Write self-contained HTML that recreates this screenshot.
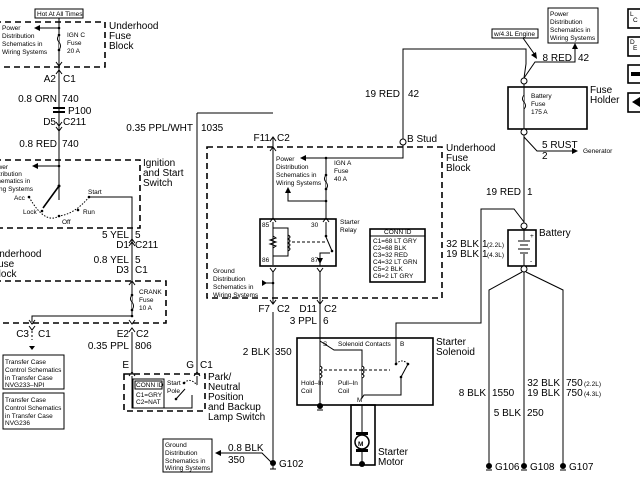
<!DOCTYPE html>
<html><head><meta charset="utf-8"><style>
html,body{margin:0;padding:0;background:#fff;}
svg{display:block;font-family:"Liberation Sans",sans-serif;}
.l{font-size:10px;}
.s{font-size:6.5px;}
.e{text-anchor:end;}
.d{fill:none;stroke:#000;stroke-width:1.6;stroke-dasharray:6,4;}
.w{fill:none;stroke:#000;stroke-width:1;}
.w2{fill:none;stroke:#000;stroke-width:1.6;}
</style></head><body>
<svg width="640" height="480" viewBox="0 0 640 480" xmlns="http://www.w3.org/2000/svg">
<rect width="640" height="480" fill="#fff"/>
<!-- LEFT: top fuse block -->
<rect x="35" y="9" width="48" height="9" class="w"/>
<text x="37" y="16" class="s">Hot At All Times</text>
<path d="M-5 22 H105 V67 H-5" class="d"/>
<text x="109" y="29" class="l">Underhood</text><text x="109" y="39" class="l">Fuse</text><text x="109" y="49" class="l">Block</text>
<path d="M59 18 V74 M59 28 H38" class="w"/><polygon points="34,28 40,25 40,31"/>
<circle cx="59" cy="28" r="1.3"/><circle cx="59" cy="35" r="1.3"/><circle cx="59" cy="50" r="1.3"/>
<path d="M59 35 q-3 4 0 7 q3 4 0 8" fill="#fff" stroke="#000"/>
<text x="2" y="30" class="s">Power</text><text x="2" y="38" class="s">Distribution</text><text x="2" y="46" class="s">Schematics in</text><text x="2" y="54" class="s">Wiring Systems</text>
<text x="67" y="37" class="s">IGN C</text><text x="67" y="45" class="s">Fuse</text><text x="67" y="53" class="s">20 A</text>
<path d="M56 62 L59 66 L62 62 M56 74 L59 70 L62 74" class="w"/>
<text x="56" y="82" class="l e">A2</text><text x="63" y="82" class="l">C1</text>
<path d="M59 74 V200" class="w"/>
<text x="57" y="102" class="l e">0.8 ORN</text><text x="62" y="102" class="l">740</text>
<rect x="53" y="107" width="12" height="2" /><rect x="53" y="111" width="12" height="2"/>
<text x="68" y="114" class="l">P100</text>
<text x="56" y="125" class="l e">D5</text><text x="63" y="125" class="l">C211</text>
<path d="M56 122 L59 126 L62 122 M56 127 L59 131 L62 127" class="w"/>
<text x="57" y="147" class="l e">0.8 RED</text><text x="62" y="147" class="l">740</text>
<!-- ignition switch -->
<path d="M-5 160 H140 V228 H-5" class="d"/>
<text x="143" y="166" class="l">Ignition</text><text x="143" y="176" class="l">and Start</text><text x="143" y="186" class="l">Switch</text>
<path d="M59 166 H36" class="w"/><polygon points="32,166 38,163 38,169"/><circle cx="59" cy="166" r="1.3"/>
<text x="-6" y="169" class="s">ower</text><text x="-6" y="176" class="s">istribution</text><text x="-6" y="183" class="s">chematics in</text><text x="-6" y="191" class="s">iring Systems</text>
<circle cx="59" cy="186" r="1.5"/><path d="M59 186 L43 208" class="w2"/>
<path d="M29 197 Q45 225 59 216 Q75 214 89 197" fill="none" stroke="#000" stroke-dasharray="1.5,1.5"/>
<circle cx="29" cy="197" r="1.3"/><circle cx="42" cy="211" r="1.3"/><circle cx="59" cy="216" r="1.3"/><circle cx="78" cy="210" r="1.3"/><circle cx="89" cy="197" r="1.3"/>
<text x="14" y="200" class="s">Acc</text><text x="23" y="214" class="s">Lock</text><text x="62" y="224" class="s">Off</text><text x="83" y="214" class="s">Run</text><text x="88" y="194" class="s">Start</text>
<path d="M89 197 H132 V316" class="w"/>
<text x="129" y="238" class="l e">5 YEL</text><text x="135" y="238" class="l">5</text>
<text x="129" y="248" class="l e">D1</text><text x="135" y="248" class="l">C211</text>
<path d="M129 243 L132 239 L135 243 M129 246 L132 242 L135 246" class="w"/>
<text x="129" y="263" class="l e">0.8 YEL</text><text x="135" y="263" class="l">5</text>
<text x="129" y="273" class="l e">D3</text><text x="135" y="273" class="l">C1</text>
<text x="-8" y="257" class="l">Underhood</text><text x="-8" y="267" class="l">Fuse</text><text x="-8" y="277" class="l">Block</text>
<!-- crank fuse -->
<path d="M-5 281 H166 V323 H-5" class="d"/>
<path d="M129 285 L132 281 L135 285" class="w"/>
<path d="M132 295 q-3 4 0 7 q3 4 0 8" fill="#fff" stroke="#000"/>
<circle cx="132" cy="295" r="1.3"/><circle cx="132" cy="310" r="1.3"/>
<text x="139" y="294" class="s">CRANK</text><text x="139" y="302" class="s">Fuse</text><text x="139" y="310" class="s">10 A</text>
<path d="M132 316 H32 V322" class="w"/><circle cx="132" cy="316" r="1.3"/>
<path d="M29 320 L32 324 L35 320 M29 326 L32 330 L35 326 M129 320 L132 324 L135 320 M129 332 L132 328 L135 332" class="w"/>
<text x="29" y="337" class="l e">C3</text><text x="38" y="337" class="l">C1</text>
<text x="129" y="337" class="l e">E2</text><text x="136" y="337" class="l">C2</text>
<path d="M32 331 V340" class="w" stroke-dasharray="2,2"/><polygon points="29,346 35,346 32,350"/>
<text x="129" y="349" class="l e">0.35 PPL</text><text x="135" y="349" class="l">806</text>
<path d="M132 332 V375" class="w"/>
<rect x="3" y="355" width="61" height="34" class="w"/>
<text x="5" y="364" class="s">Transfer Case</text><text x="5" y="372" class="s">Control Schematics</text><text x="5" y="380" class="s">in Transfer Case</text><text x="5" y="387" class="s">NVG233–NPI</text>
<rect x="3" y="393" width="61" height="36" class="w"/>
<text x="5" y="402" class="s">Transfer Case</text><text x="5" y="410" class="s">Control Schematics</text><text x="5" y="418" class="s">in Transfer Case</text><text x="5" y="425" class="s">NVG236</text>
<!-- P/N switch -->
<text x="129" y="368" class="l e">E</text><text x="194" y="368" class="l e">G</text><text x="200" y="368" class="l">C1</text>
<path d="M197 113 V372 M197 113 H273" class="w"/>
<text x="193" y="131" class="l e">0.35 PPL/WHT</text><text x="201" y="131" class="l">1035</text>
<path d="M124 374 H205 V411 H124 Z" class="d"/>
<path d="M129 376 L132 372 L135 376 M194 376 L197 372 L200 376" class="w"/>
<rect x="133" y="379" width="31" height="29" class="w"/><rect x="135" y="381" width="27" height="8" class="w"/>
<text x="136" y="387" class="s">CONN ID</text><text x="136" y="397" class="s">C1=GRY</text><text x="136" y="404" class="s">C2=NAT</text>
<path d="M132 376 V408 H192 V395 M197 376 V385 M176 399 L185 389" class="w"/>
<circle cx="184" cy="383" r="1.3"/><circle cx="176" cy="399" r="1.3"/>
<path d="M184 383 Q190 377 197 385" fill="none" stroke="#000" stroke-dasharray="1.5,1.5"/>
<text x="167" y="385" class="s">Start</text><text x="167" y="393" class="s">Pole</text>
<text x="208" y="380" class="l">Park/</text><text x="208" y="390" class="l">Neutral</text><text x="208" y="400" class="l">Position</text><text x="208" y="410" class="l">and Backup</text><text x="208" y="420" class="l">Lamp Switch</text>
<!-- ground dist box -->
<rect x="163" y="439" width="49" height="33" class="w"/>
<text x="165" y="447" class="s">Ground</text><text x="165" y="455" class="s">Distribution</text><text x="165" y="463" class="s">Schematics in</text><text x="165" y="470" class="s">Wiring Systems</text>
<path d="M219 453 H262 L272 463" class="w"/><polygon points="215,453 221,450 221,456"/>
<text x="228" y="451" class="l">0.8 BLK</text><text x="228" y="463" class="l">350</text>
<path d="M273 312 V463" class="w"/><circle cx="273" cy="463" r="3"/><path d="M273 466 V469 M270 469 H276" class="w"/>
<text x="279" y="467" class="l">G102</text>
<text x="270" y="355" class="l e">2 BLK</text><text x="275" y="355" class="l">350</text>
<!-- MIDDLE fuse block -->
<path d="M207 147 H442 V298 H207 Z" class="d"/>
<text x="446" y="151" class="l">Underhood</text><text x="446" y="161" class="l">Fuse</text><text x="446" y="171" class="l">Block</text>
<text x="270" y="141" class="l e">F11</text><text x="277" y="141" class="l">C2</text>
<path d="M270 141 L273 137 L276 141 M270 151 L273 147 L276 151" class="w"/>
<path d="M273 137 V218" class="w"/>
<circle cx="403" cy="142" r="3" fill="#fff" stroke="#000"/>
<text x="407" y="142" class="l">B Stud</text>
<path d="M403 139 V49 H526 V64 L524 78 M403 145 V158 H304" class="w"/><polygon points="300,158 306,155 306,161"/>
<text x="400" y="97" class="l e">19 RED</text><text x="408" y="97" class="l">42</text>
<text x="276" y="161" class="s">Power</text><text x="276" y="169" class="s">Distribution</text><text x="276" y="177" class="s">Schematics in</text><text x="276" y="185" class="s">Wiring Systems</text>
<path d="M326 158 V218 M326 201 H288 V193" class="w"/><polygon points="285,193 291,193 288,187"/>
<circle cx="326" cy="158" r="1.3"/><circle cx="326" cy="175" r="1.3"/><circle cx="326" cy="189" r="1.3"/><circle cx="326" cy="201" r="1.3"/>
<path d="M326 175 q-3 4 0 7 q3 4 0 7" fill="#fff" stroke="#000"/>
<text x="334" y="165" class="s">IGN A</text><text x="334" y="173" class="s">Fuse</text><text x="334" y="181" class="s">40 A</text>
<!-- relay -->
<rect x="260" y="219" width="76" height="47" class="w2"/>
<path d="M270 222 L273 218 L276 222 M323 222 L326 218 L329 222" class="w"/>
<text x="262" y="227" class="s">85</text><text x="262" y="262" class="s">86</text><text x="311" y="227" class="s">30</text><text x="311" y="262" class="s">87</text>
<text x="340" y="224" class="s">Starter</text><text x="340" y="232" class="s">Relay</text>
<path d="M273 222 V265 M273 228 H288 V256 H273 M273 236 l3 2 -6 2 6 2 -6 2 6 2 -3 2" class="w"/>
<path d="M288 235 q4 2 0 4 q4 2 0 4 q4 2 0 4 q4 2 0 4" fill="none" stroke="#000"/>
<path d="M326 222 V237 L332 251 M320 266 V253 H330" class="w"/><polygon points="317,258 323,258 320,264"/>
<path d="M292 242 H326" class="w" stroke-dasharray="3,2"/>
<circle cx="326" cy="236" r="1.3"/><circle cx="332" cy="251" r="1.3"/>
<path d="M270 268 L273 272 L276 268 M317 268 L320 272 L323 268 M270 300 L273 304 L276 300 M317 300 L320 304 L323 300" class="w"/>
<rect x="370" y="229" width="55" height="53" class="w2"/><path d="M370 236 H425" class="w"/>
<text x="384" y="234" class="s">CONN ID</text>
<text x="373" y="243" class="s">C1=68 LT GRY</text><text x="373" y="250" class="s">C2=68 BLK</text><text x="373" y="257" class="s">C3=32 RED</text><text x="373" y="264" class="s">C4=32 LT GRN</text><text x="373" y="271" class="s">C5=2 BLK</text><text x="373" y="278" class="s">C6=2 LT GRY</text>
<text x="213" y="273" class="s">Ground</text><text x="213" y="281" class="s">Distribution</text><text x="213" y="289" class="s">Schematics in</text><text x="213" y="297" class="s">Wiring Systems</text>
<path d="M273 272 V304 M265 283 H273 M320 272 V338" class="w"/><polygon points="262,280 262,286 267,283"/><circle cx="273" cy="283" r="1.3"/>
<text x="270" y="312" class="l e">F7</text><text x="277" y="312" class="l">C2</text>
<text x="317" y="312" class="l e">D11</text><text x="324" y="312" class="l">C2</text>
<text x="317" y="324" class="l e">3 PPL</text><text x="323" y="324" class="l">6</text>
<!-- solenoid -->
<rect x="297" y="338" width="136" height="67" class="w2"/>
<text x="436" y="345" class="l">Starter</text><text x="436" y="355" class="l">Solenoid</text>
<text x="323" y="346" class="s">S</text><text x="338" y="346" class="s">Solenoid Contacts</text><text x="400" y="346" class="s">B</text>
<text x="301" y="385" class="s">Hold–In</text><text x="301" y="393" class="s">Coil</text>
<text x="338" y="385" class="s">Pull–In</text><text x="338" y="393" class="s">Coil</text><text x="357" y="402" class="s">M</text>
<path d="M320 338 V406 M320 341 L334 350 H362 V398 L364 395 H401 V376 M396 338 V364 M396 338 V323 H481 V209 H514 L524 222" class="w"/>
<path d="M320 366 q4 2 0 4 q4 2 0 4 q4 2 0 4 M362 366 q4 2 0 4 q4 2 0 4 q4 2 0 4" fill="#fff" stroke="#000"/>
<path d="M324 370 H390" class="w" stroke-dasharray="3,2"/>
<path d="M396 364 Q402 358 408 364" fill="none" stroke="#000" stroke-dasharray="1.5,1.5"/>
<path d="M401 377 L408 364" class="w"/>
<circle cx="396" cy="364" r="1.3"/><circle cx="408" cy="364" r="1.3"/><circle cx="401" cy="377" r="1.3"/>
<circle cx="320" cy="406" r="3"/><path d="M317 410 H323" class="w"/>
<rect x="351" y="405" width="24" height="60" class="w2"/>
<path d="M362 405 V432 M362 452 V462" class="w"/>
<rect x="356" y="432" width="12" height="3"/><rect x="356" y="449" width="12" height="3"/>
<circle cx="362" cy="442" r="7" fill="#fff" stroke="#000" stroke-width="1.5"/>
<text x="358" y="446" class="s" font-weight="bold">M</text>
<circle cx="362" cy="464" r="3"/>
<text x="378" y="455" class="l">Starter</text><text x="378" y="465" class="l">Motor</text>
<!-- RIGHT -->
<rect x="548" y="8" width="50" height="35" class="w"/>
<text x="550" y="16" class="s">Power</text><text x="550" y="24" class="s">Distribution</text><text x="550" y="32" class="s">Schematics in</text><text x="550" y="40" class="s">Wiring Systems</text>
<rect x="492" y="29" width="46" height="9" class="w"/>
<text x="494" y="36" class="s">w/4.3L Engine</text>
<path d="M523 38 L535 55" class="w"/><polygon points="537,59 531,55 536,52"/>
<path d="M524 78 L535 62 H575 V48" class="w"/><polygon points="572,49 578,49 575,43"/>
<text x="572" y="61" class="l e">8 RED</text><text x="578" y="61" class="l">42</text>
<circle cx="524" cy="81" r="3" fill="#fff" stroke="#000"/>
<rect x="508" y="87" width="79" height="42" class="w2"/>
<path d="M524 84 V129" class="w"/>
<path d="M524 95 q-3 4 0 7 q3 4 0 7" fill="#fff" stroke="#000"/>
<text x="531" y="98" class="s">Battery</text><text x="531" y="106" class="s">Fuse</text><text x="531" y="114" class="s">175 A</text>
<text x="590" y="93" class="l">Fuse</text><text x="590" y="103" class="l">Holder</text>
<circle cx="524" cy="132" r="3" fill="#fff" stroke="#000"/>
<path d="M524 135 V223 M524 137 L537 151 H574" class="w"/><polygon points="578,151 572,148 572,154"/>
<text x="542" y="148" class="l">5 RUST</text><text x="542" y="159" class="l">2</text>
<text x="583" y="153" class="s">Generator</text>
<text x="521" y="195" class="l e">19 RED</text><text x="527" y="195" class="l">1</text>
<circle cx="524" cy="226" r="3" fill="#fff" stroke="#000"/>
<rect x="508" y="230" width="28" height="36" class="w2"/>
<path d="M524 230 V240 M518 241 H530 M520 245 H528 M518 249 H530 M520 253 H528 M524 254 V266" class="w"/>
<text x="530" y="238" class="s">+</text><text x="530" y="263" class="s">-</text>
<text x="539" y="236" class="l">Battery</text>
<text x="479" y="247" class="l e">32 BLK</text><text x="482" y="247" class="l">1</text><text x="487" y="247" class="s">(2.2L)</text>
<text x="479" y="257" class="l e">19 BLK</text><text x="482" y="257" class="l">1</text><text x="487" y="257" class="s">(4.3L)</text>
<circle cx="524" cy="269" r="3" fill="#fff" stroke="#000"/>
<path d="M524 272 V465 M522 272 L489 290 V465 M526 272 L563 290 V465" class="w"/>
<text x="486" y="396" class="l e">8 BLK</text><text x="492" y="396" class="l">1550</text>
<text x="521" y="416" class="l e">5 BLK</text><text x="527" y="416" class="l">250</text>
<text x="560" y="386" class="l e">32 BLK</text><text x="566" y="386" class="l">750</text><text x="584" y="386" class="s">(2.2L)</text>
<text x="560" y="396" class="l e">19 BLK</text><text x="566" y="396" class="l">750</text><text x="584" y="396" class="s">(4.3L)</text>
<circle cx="489" cy="466" r="3"/><circle cx="524" cy="466" r="3"/><circle cx="563" cy="466" r="3"/>
<path d="M486 470 H492 M521 470 H527 M560 470 H566" class="w"/>
<text x="495" y="470" class="l">G106</text><text x="530" y="470" class="l">G108</text><text x="569" y="470" class="l">G107</text>
<!-- right edge icons -->
<rect x="628" y="9" width="14" height="19" class="w2"/><text x="630" y="16" class="s">L</text><text x="633" y="22" class="s">C</text>
<rect x="628" y="37" width="14" height="19" class="w2"/><text x="630" y="44" class="s">D</text><text x="633" y="50" class="s">E</text>
<rect x="628" y="65" width="14" height="18" class="w2"/><rect x="631" y="72" width="9" height="4"/>
<rect x="628" y="93" width="14" height="19" class="w2"/><polygon points="632,102 640,97 640,107"/>
</svg>
</body></html>
